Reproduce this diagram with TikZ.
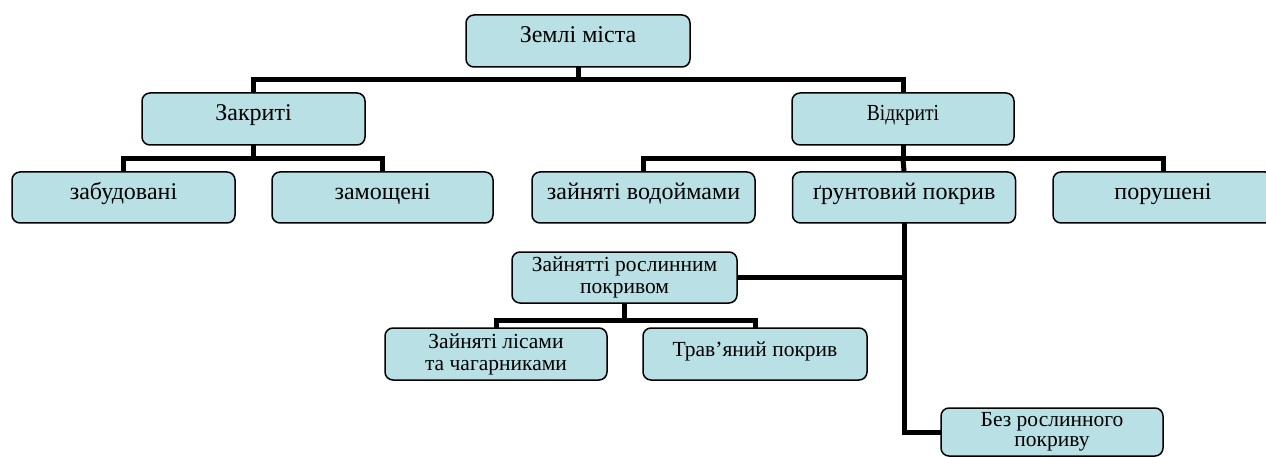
\documentclass[tikz,border=0pt]{standalone}
\usepackage{fontspec}
\setmainfont{Liberation Serif}
\usetikzlibrary{backgrounds}
\definecolor{boxfill}{RGB}{185,224,228}
\tikzset{
  box/.style={draw=black, line width=1.5pt, fill=boxfill, rounded corners=8pt,
    inner sep=0pt, align=center},
  one/.style={text height=16pt, text depth=12pt},
  big/.style={font=\fontsize{24}{26}\selectfont},
  small/.style={font=\fontsize{21.5}{22}\selectfont},
  conn/.style={draw=black, line width=5pt, line join=miter, line cap=rect}
}
\begin{document}
\begin{tikzpicture}[x=1pt,y=-1pt]
\useasboundingbox (0,0) rectangle (1266,457);
\node[box,big,one,minimum width=224pt,minimum height=52pt] (top) at (578,41) {Землі міста};
\node[box,big,one,minimum width=223pt,minimum height=52pt] (zak) at (253.5,119) {Закриті};
\node[box,one,minimum width=222pt,minimum height=52pt,font=\fontsize{23}{25}\selectfont] (vid) at (903,119) {\scalebox{0.85}[1]{Відкриті}};
\node[box,big,one,minimum width=223pt,minimum height=51pt] (zab) at (123.5,197.5) {забудовані};
\node[box,big,one,minimum width=221pt,minimum height=51pt] (zam) at (382.5,197.5) {замощені};
\node[box,big,one,minimum width=223pt,minimum height=51pt] (vod) at (643.5,197.5) {зайняті водоймами};
\node[box,big,one,minimum width=223pt,minimum height=51pt] (grunt) at (904,197.5) {ґрунтовий покрив};
\node[box,big,one,minimum width=220pt,minimum height=51pt] (por) at (1163,197.5) {порушені};
\node[box,small,minimum width=225pt,minimum height=51pt] (roslyn) at (624.5,277.5) {Зайнятті рослинним\\покривом};
\node[box,small,minimum width=222pt,minimum height=52pt] (lis) at (496,354) {Зайняті лісами\\та чагарниками};
\node[box,small,one,minimum width=224pt,minimum height=52pt] (trav) at (755,354) {Трав’яний покрив};
\node[box,font=\fontsize{21.5}{20}\selectfont,minimum width=222pt,minimum height=48pt] (bez) at (1052,432) {Без рослинного\\покриву};
\coordinate (b1) at (578,80);
\coordinate (b2) at (253.5,159);
\coordinate (b3) at (903,159);
\coordinate (b4) at (624.5,320);
\begin{scope}[on background layer]
\draw[conn] (top.south) -- (b1);
\draw[conn] (zak.north) |- (b1) -| (vid.north);
\draw[conn] (zak.south) -- (b2);
\draw[conn] (zab.north) |- (b2) -| (zam.north);
\draw[conn] (vid.south) -- (b3);
\draw[conn] (vod.north) |- (b3) -| (por.north);
\draw[conn] (b3) -- (grunt.north);
\draw[conn] (grunt.south) |- (bez.west);
\draw[conn] (roslyn.east) -- (roslyn.east -| grunt.south);
\draw[conn] (roslyn.south) -- (b4);
\draw[conn] (lis.north) |- (b4) -| (trav.north);
\end{scope}
\end{tikzpicture}
\end{document}
